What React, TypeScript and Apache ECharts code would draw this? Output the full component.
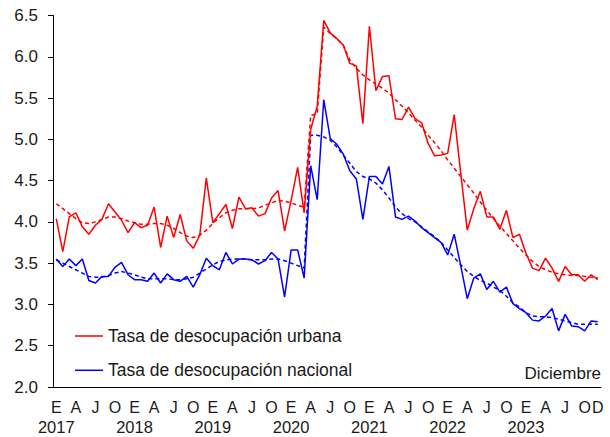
import React, { useEffect, useRef } from "react";
import * as echarts from "echarts";

const years = [2017, 2018, 2019, 2020, 2021, 2022, 2023];
const monthLetters = ["E", "F", "M", "A", "M", "J", "J", "A", "S", "O", "N", "D"];

const urbana = [
  4.04, 3.64, 4.06, 4.11, 3.94, 3.85, 3.96, 4.03, 4.22, 4.12, 4.02, 3.87,
  3.99, 3.93, 3.96, 4.18, 3.69, 4.07, 3.81, 4.09, 3.77, 3.68, 3.84, 4.53,
  3.99, 4.10, 4.21, 3.92, 4.30, 4.16, 4.17, 4.07, 4.10, 4.29, 4.38, 3.89,
  4.26, 4.66, 4.11, 5.12, 5.40, 6.44, 6.29, 6.22, 6.14, 5.92, 5.89, 5.19,
  6.37, 5.59, 5.76, 5.77, 5.25, 5.24, 5.39, 5.25, 5.20, 4.95, 4.80, 4.81,
  4.83, 5.30, 4.59, 3.90, 4.16, 4.37, 4.06, 4.06, 3.91, 4.14, 3.81, 3.85,
  3.62, 3.44, 3.41, 3.56, 3.44, 3.28, 3.46, 3.36, 3.36, 3.28, 3.36, 3.30,
];

const nacional = [
  3.55, 3.46, 3.55, 3.47, 3.55, 3.29, 3.26, 3.34, 3.34, 3.45, 3.51, 3.36,
  3.30, 3.30, 3.28, 3.38, 3.26, 3.37, 3.30, 3.28, 3.34, 3.21, 3.36, 3.56,
  3.47, 3.42, 3.63, 3.49, 3.55, 3.55, 3.54, 3.49, 3.53, 3.63, 3.55, 3.09,
  3.66, 3.66, 3.32, 4.68, 4.27, 5.48, 5.01, 4.94, 4.82, 4.62, 4.52, 4.03,
  4.55, 4.55, 4.46, 4.67, 4.06, 4.03, 4.07, 4.01, 3.93, 3.87, 3.81, 3.75,
  3.60, 3.85, 3.47, 3.07, 3.32, 3.37, 3.18, 3.28, 3.15, 3.21, 3.01, 2.95,
  2.90, 2.81, 2.80, 2.86, 2.95, 2.68, 2.88, 2.74, 2.73, 2.68, 2.80, 2.79,
];

const tendenciaUrbana = [
  4.22, 4.16, 4.10, 4.04, 3.99, 3.98, 4.00, 4.03, 4.06, 4.06, 4.04, 4.01,
  3.99, 3.97, 3.97, 3.98, 3.98, 3.96, 3.92, 3.87, 3.83, 3.81, 3.84, 3.90,
  3.98, 4.05, 4.11, 4.14, 4.16, 4.16, 4.16, 4.17, 4.20, 4.23, 4.26, 4.25,
  4.23, 4.20, 4.18, 5.29, 5.31, 6.36, 6.28, 6.22, 6.14, 5.96, 5.86, 5.78,
  5.72, 5.67, 5.62, 5.56, 5.48, 5.40, 5.32, 5.23, 5.15, 5.05, 4.96, 4.86,
  4.75, 4.65, 4.55, 4.45, 4.35, 4.24, 4.14, 4.04, 3.95, 3.86, 3.77, 3.68,
  3.60, 3.52, 3.46, 3.42, 3.39, 3.37, 3.36, 3.35, 3.35, 3.34, 3.33, 3.32,
];

const tendenciaNacional = [
  3.54, 3.50, 3.46, 3.42, 3.38, 3.34, 3.33, 3.33, 3.35, 3.38, 3.40, 3.38,
  3.36, 3.33, 3.31, 3.31, 3.31, 3.31, 3.30, 3.30, 3.31, 3.33, 3.38, 3.43,
  3.48, 3.52, 3.54, 3.55, 3.55, 3.55, 3.54, 3.54, 3.54, 3.55, 3.55, 3.53,
  3.50, 3.47, 3.44, 5.05, 5.05, 5.03, 4.99, 4.91, 4.81, 4.71, 4.61, 4.55,
  4.52, 4.47, 4.39, 4.29, 4.18, 4.10, 4.04, 4.00, 3.94, 3.88, 3.82, 3.75,
  3.66, 3.57, 3.48, 3.40, 3.34, 3.29, 3.26, 3.21, 3.17, 3.10, 3.02, 2.97,
  2.90, 2.86, 2.85, 2.85, 2.84, 2.82, 2.80, 2.78, 2.76, 2.76, 2.76, 2.76,
];

const yTicks = { min: 2.0, max: 6.5, interval: 0.5 };
const serieNames = ["Tasa de desocupación urbana", "Tasa de desocupación nacional"];
const noteText = "Diciembre";

const categories: string[] = [];
years.forEach((y) => monthLetters.forEach((m) => categories.push(m + " " + y)));

const FONT = "'Liberation Sans', Arial, sans-serif";

export default function App() {
  const ref = useRef<HTMLDivElement>(null);
  useEffect(() => {
    if (!ref.current) return;
    const chart = echarts.init(ref.current, undefined, { renderer: "svg" });
    const last = categories.length - 1;
    chart.setOption({
      animation: false,
      backgroundColor: "#ffffff",
      textStyle: { fontFamily: FONT },
      grid: { left: 53, right: 9, top: 15.5, bottom: 50, containLabel: false },
      legend: {
        data: [
          { name: serieNames[0], icon: "rect", itemStyle: { color: "#ff0000" } },
          { name: serieNames[1], icon: "rect", itemStyle: { color: "#0000ff" } },
        ],
        orient: "vertical",
        left: 70,
        top: 321,
        itemWidth: 28,
        itemHeight: 1.5,
        itemGap: 14.3,
        textStyle: { fontSize: 17.5, color: "#1a1a1a", fontFamily: FONT, lineHeight: 20 },
      },
      xAxis: [
        {
          type: "category",
          data: categories,
          boundaryGap: true,
          axisLine: { lineStyle: { color: "#000", width: 1 } },
          axisTick: {
            inside: true,
            length: 4,
            interval: (i: number) => i % 3 === 0,
            lineStyle: { color: "#000" },
          },
          axisLabel: {
            interval: (i: number) => i % 3 === 0 || i === last,
            showMinLabel: true,
            showMaxLabel: true,
            margin: 10,
            color: "#1a1a1a",
            fontSize: 16,
            lineHeight: 20,
            fontFamily: FONT,
            formatter: (_v: string, i: number) => (i === last ? "D" : monthLetters[i % 12]),
          },
          splitLine: { show: false },
        },
        {
          type: "category",
          data: categories,
          boundaryGap: true,
          position: "bottom",
          offset: 20,
          axisLine: { show: false },
          axisTick: { show: false },
          axisLabel: {
            interval: (i: number) => i % 12 === 0,
            showMinLabel: true,
            showMaxLabel: true,
            margin: 10,
            color: "#1a1a1a",
            fontSize: 16.5,
            lineHeight: 20,
            fontFamily: FONT,
            formatter: (_v: string, i: number) =>
              i % 12 === 0 ? String(years[Math.floor(i / 12)]) : "",
          },
          splitLine: { show: false },
        },
      ],
      yAxis: {
        type: "value",
        min: yTicks.min,
        max: yTicks.max,
        interval: yTicks.interval,
        axisLine: { show: true, lineStyle: { color: "#000", width: 1 } },
        axisTick: { show: true, length: 5, lineStyle: { color: "#000" } },
        axisLabel: {
          margin: 15,
          fontSize: 17,
          color: "#1a1a1a",
          fontFamily: FONT,
          formatter: (v: number) => v.toFixed(1),
        },
        splitLine: { show: false },
      },
      series: [
        {
          name: serieNames[0],
          type: "line",
          data: urbana,
          symbol: "none",
          lineStyle: { color: "#ff0000", width: 1.5 },
          itemStyle: { color: "#ff0000" },
          z: 3,
        },
        {
          name: serieNames[1],
          type: "line",
          data: nacional,
          symbol: "none",
          lineStyle: { color: "#0000ff", width: 1.5 },
          itemStyle: { color: "#0000ff" },
          z: 3,
        },
        {
          name: "Tendencia urbana",
          type: "line",
          data: tendenciaUrbana,
          symbol: "none",
          lineStyle: { color: "#ff0000", width: 1.5, type: [4, 3] },
          itemStyle: { color: "#ff0000" },
          z: 2,
        },
        {
          name: "Tendencia nacional",
          type: "line",
          data: tendenciaNacional,
          symbol: "none",
          lineStyle: { color: "#0000ff", width: 1.5, type: [4, 3] },
          itemStyle: { color: "#0000ff" },
          z: 2,
        },
      ],
      graphic: [
        {
          type: "text",
          right: 9,
          top: 365,
          style: { text: noteText, fontSize: 17, fill: "#1a1a1a", fontFamily: FONT },
        },
      ],
    });
    return () => chart.dispose();
  }, []);
  return (
    <div
      ref={ref}
      style={{ position: "fixed", left: 0, top: 0, width: 610, height: 437 }}
    />
  );
}
